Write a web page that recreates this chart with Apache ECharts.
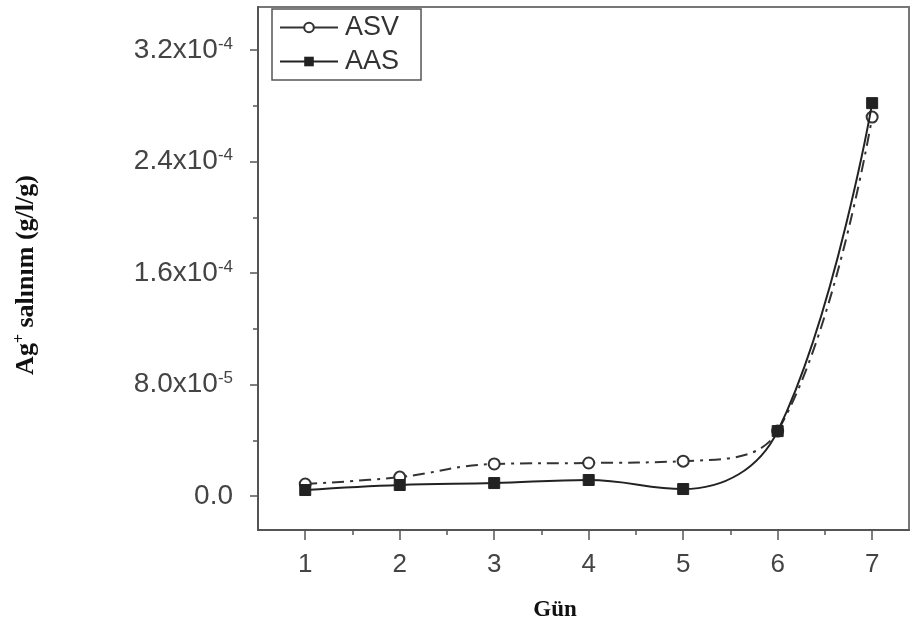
<!DOCTYPE html>
<html>
<head>
<meta charset="utf-8">
<script src="https://cdn.jsdelivr.net/npm/echarts@6/dist/echarts.min.js"></script>
<style>html,body{margin:0;padding:0;background:#fff;}#c{width:911px;height:628px;}</style>
</head>
<body>
<div id="c"></div>
<script>
const days = [1, 2, 3, 4, 5, 6, 7];
const asv = [8.6e-6, 1.36e-5, 2.3e-5, 2.37e-5, 2.5e-5, 4.66e-5, 2.72e-4];
const aas = [4.3e-6, 7.9e-6, 9.3e-6, 1.15e-5, 5.0e-6, 4.66e-5, 2.82e-4];
const xTickValues = [1, 2, 3, 4, 5, 6, 7];
const xMinorValues = [1.5, 2.5, 3.5, 4.5, 5.5, 6.5];
const yTickValues = [0, 8e-5, 1.6e-4, 2.4e-4, 3.2e-4];
const yTickLabels = ['0.0', '8.0x10{s|-5}', '1.6x10{s|-4}', '2.4x10{s|-4}', '3.2x10{s|-4}'];
const yMinorValues = [4e-5, 1.2e-4, 2.0e-4, 2.8e-4];

const chart = echarts.init(document.getElementById('c'));
const axisColor = '#555';
const labelColor = '#444';
const font = 'Liberation Sans, Arial, sans-serif';
const serif = 'Liberation Serif, Times New Roman, serif';
const xMin = 0.5, xMax = 7.39, yMin = -2.44e-5, yMax = 3.51e-4;

const option = {
  animation: false,
  backgroundColor: '#fff',
  grid: { left: 258, right: 2, top: 7, bottom: 98, show: true, borderColor: '#777', borderWidth: 2, backgroundColor: 'transparent' },
  legend: {
    orient: 'vertical', left: 272, top: 9, width: 150,
    padding: [5, 22, 5, 7], itemGap: 7,
    borderColor: '#555', borderWidth: 1.5,
    itemWidth: 58, itemHeight: 12,
    lineStyle: { type: 'solid', width: 2 },
    textStyle: { fontFamily: font, fontSize: 27, color: '#333', padding: [0, 0, 0, 2] },
    data: ['ASV', 'AAS']
  },
  xAxis: [
    {
      type: 'value', min: xMin, max: xMax, gridIndex: 0, position: 'bottom',
      splitLine: { show: false },
      axisLine: { show: true, onZero: false, lineStyle: { color: axisColor, width: 2 } },
      axisTick: { show: true, customValues: xTickValues, length: 10, lineStyle: { color: axisColor, width: 1.5 } },
      axisLabel: { customValues: xTickValues, margin: 22, fontFamily: font, fontSize: 26, color: labelColor }
    },
    {
      type: 'value', min: xMin, max: xMax, gridIndex: 0, position: 'bottom',
      splitLine: { show: false },
      axisLine: { show: false, onZero: false },
      axisTick: { show: true, customValues: xMinorValues, length: 5, lineStyle: { color: axisColor, width: 1.5 } },
      axisLabel: { show: false }
    }
  ],
  yAxis: [
    {
      type: 'value', min: yMin, max: yMax, gridIndex: 0, position: 'left',
      splitLine: { show: false },
      axisLine: { show: true, onZero: false, lineStyle: { color: axisColor, width: 2 } },
      axisTick: { show: true, customValues: yTickValues, length: 8, lineStyle: { color: axisColor, width: 1.5 } },
      axisLabel: {
        customValues: yTickValues, margin: 25, fontFamily: font, fontSize: 28, color: labelColor,
        formatter: function (v) {
          let idx = 0, best = Infinity;
          yTickValues.forEach((t, i) => { const d = Math.abs(t - v); if (d < best) { best = d; idx = i; } });
          return yTickLabels[idx];
        },
        rich: { s: { fontFamily: font, fontSize: 17, color: labelColor, verticalAlign: 'top', padding: [0, 0, 12, 0] } }
      }
    },
    {
      type: 'value', min: yMin, max: yMax, gridIndex: 0, position: 'left',
      splitLine: { show: false },
      axisLine: { show: false, onZero: false },
      axisTick: { show: true, customValues: yMinorValues, length: 5, lineStyle: { color: axisColor, width: 1.5 } },
      axisLabel: { show: false }
    }
  ],
  series: [
    {
      name: 'ASV', type: 'line', xAxisIndex: 0, yAxisIndex: 0,
      data: days.map((d, i) => [d, asv[i]]),
      smooth: 0.4,
      symbol: 'emptyCircle', symbolSize: 11,
      lineStyle: { color: '#333', width: 2, type: [12, 6, 3, 6] },
      itemStyle: { color: '#333', borderColor: '#444', borderWidth: 1.2 },
      z: 2
    },
    {
      name: 'AAS', type: 'line', xAxisIndex: 0, yAxisIndex: 0,
      data: days.map((d, i) => [d, aas[i]]),
      smooth: 0.4,
      symbol: 'rect', symbolSize: 11,
      lineStyle: { color: '#222', width: 2, type: 'solid' },
      itemStyle: { color: '#222', borderColor: '#222' },
      z: 3
    }
  ],
  graphic: [
    {
      type: 'text', x: 26, y: 275, rotation: Math.PI / 2,
      style: {
        text: 'Ag{sup|+} salınım (g/l/g)',
        fontFamily: serif, fontWeight: 'bold', fontSize: 26, fill: '#111',
        align: 'center', verticalAlign: 'middle',
        rich: { sup: { fontFamily: serif, fontWeight: 'bold', fontSize: 16, fill: '#111', verticalAlign: 'top', padding: [0, 0, 12, 0] } }
      }
    },
    {
      type: 'text', x: 555, y: 610,
      style: {
        text: 'Gün',
        fontFamily: serif, fontWeight: 'bold', fontSize: 23, fill: '#111',
        align: 'center', verticalAlign: 'middle'
      }
    }
  ]
};
chart.setOption(option);
</script>
</body>
</html>
